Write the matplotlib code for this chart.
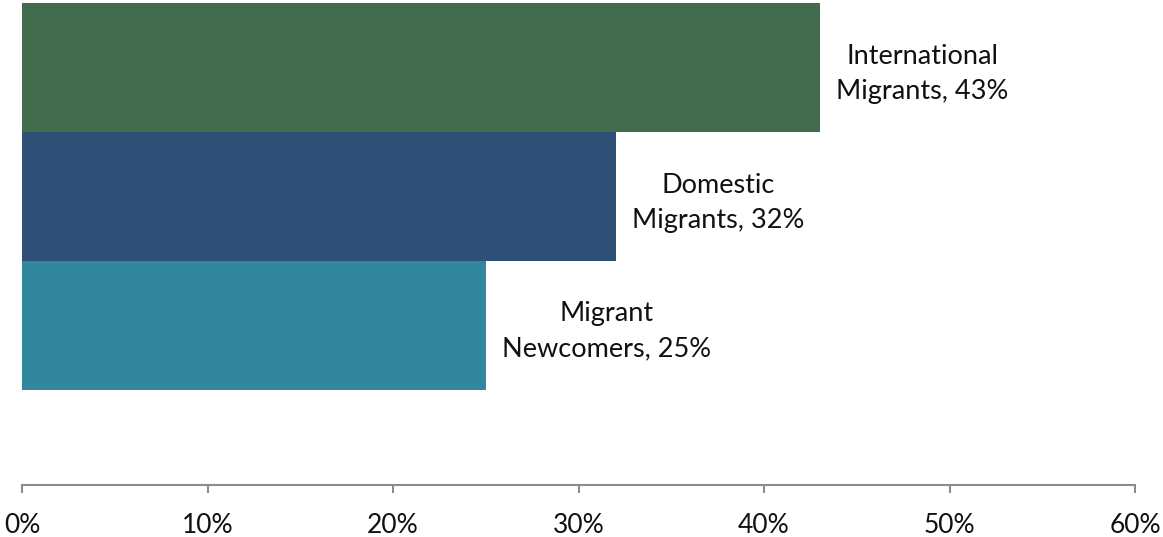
import matplotlib
matplotlib.use("Agg")
import matplotlib.pyplot as plt
from matplotlib.ticker import FuncFormatter

categories = ["International\nMigrants", "Domestic\nMigrants", "Migrant\nNewcomers"]
shares = [43, 32, 25]
colors = ["#436C4F", "#2E4F76", "#32869D"]
x_ticks = [0, 10, 20, 30, 40, 50, 60]

plt.rcParams["font.family"] = ["Lato", "DejaVu Sans"]

fig = plt.figure(figsize=(11.63, 5.37), dpi=100)
ax = fig.add_axes([22 / 1163, 1 - 485 / 537, (1135 - 22) / 1163, (485 - 3) / 537])

pos = list(range(len(shares)))
ax.barh(pos, shares, height=1.0, color=colors, edgecolor="none")

for p, v, c in zip(pos, shares, categories):
    ax.annotate(f"{c}, {v}%", xy=(v, p), xytext=(12, -4.5), textcoords="offset points",
                ha="left", va="center", multialignment="center",
                fontsize=19.5, color="#111111", linespacing=1.5)

ax.set_xlim(0, 60)
ax.set_ylim(3.24, -0.5)
ax.set_xticks(x_ticks)
ax.xaxis.set_major_formatter(FuncFormatter(lambda v, _: f"{v:.0f}%"))
ax.set_yticks([])
for s in ["top", "right", "left"]:
    ax.spines[s].set_visible(False)
ax.spines["bottom"].set_color("#8C8C8C")
ax.spines["bottom"].set_linewidth(1.5)
ax.tick_params(axis="x", length=6, width=1.5, color="#8C8C8C",
               labelsize=19, labelcolor="#111111", pad=14)

fig.savefig("out.png", dpi=100)
